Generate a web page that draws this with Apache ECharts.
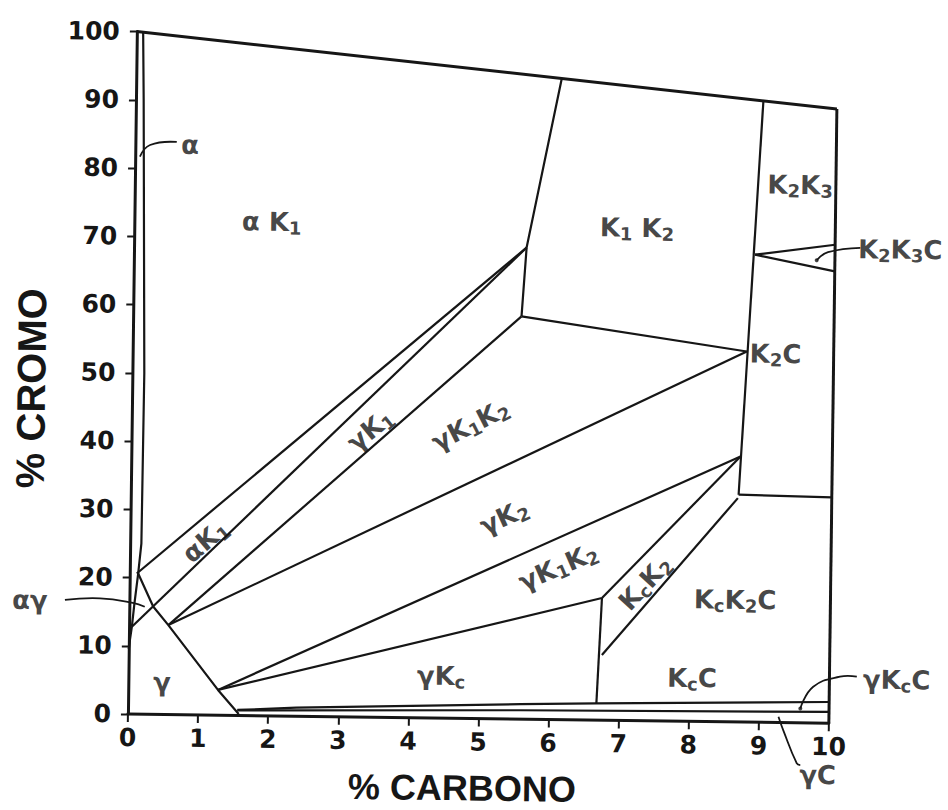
<!DOCTYPE html>
<html><head><meta charset="utf-8">
<script src="https://cdn.jsdelivr.net/npm/echarts@6/dist/echarts.min.js"></script>
<style>
html,body{margin:0;padding:0;background:#fff;overflow:hidden}
#chart{width:948px;height:810px;transform:rotate(0.75deg);transform-origin:474px 405px;}
</style>
</head><body><div id="chart"></div>
<script>
// ---- axis ticks ----
const xTickLabels = ['0','1','2','3','4','5','6','7','8','9','10'];
const yTickLabels = ['0','10','20','30','40','50','60','70','80','90','100'];

// ---- phase boundaries (% C, % Cr) ----
const topEdge     = [[0,100],[10,90]];
const rightEdge   = [[10,90],[10,0]];
const alphaLine   = [[0.09,99.9],[0.11,90],[0.17,50],[0.16,25],[0.12,20.6],[0.07,16],[0.04,12.8],[0.01,10.5],[0,9.5]];
const gammaLine   = [[0.12,20.6],[0.34,15.8],[0.56,13.1],[1.28,3.7],[1.58,0.2]];
const aK1Upper    = [[0.1,20.6],[5.6,69.1]];
const aK1Lower    = [[0.04,12.8],[5.6,69.1]];
const gK1Lower    = [[0.56,13.1],[5.54,59.0]];
const k1k2Left    = [[5.54,59.0],[5.6,69.1],[6.07,93.93]];
const k1k2Lower   = [[5.54,59.0],[8.76,54.3]];
const gK2Upper    = [[0.56,13.1],[8.76,54.3]];
const k2Left      = [[8.95,91.05],[8.67,33.3]];
const k2cBottom   = [[8.67,33.3],[10,33.1]];
const k2k3cUpper  = [[8.86,68.5],[10,70.1]];
const k2k3cLower  = [[8.86,68.5],[10,66.2]];
const gK2Lower    = [[1.28,3.7],[8.69,38.9]];
const gKcUpper    = [[1.28,3.7],[6.74,17.9]];
const kcVertical  = [[6.68,2.46],[6.74,17.9]];
const kcK2Upper   = [[6.74,17.9],[8.69,38.9]];
const kcK2Lower   = [[6.75,9.55],[8.66,32.8]];
const lineP       = [[1.56,0.8],[2.4,1.25],[5.6,2.2],[6.68,2.45],[10,3.1]];
const lineQ       = [[1.56,0.75],[5.6,1.3],[10,1.65]];

// ---- leader lines for labels ----
const ptrAlpha  = [[0.067,81.7],[0.21,83.4],[0.59,83.9]];
const ptrAG     = [[-0.92,16.6],[-0.42,16.9],[0.05,16.3],[0.22,15.75]];
const ptrK2K3C  = [[9.74,67.8],[9.9,69.0],[10.36,69.7]];
const ptrGKcC   = [[9.59,2.1],[9.77,5.3],[10.15,6.83],[10.39,6.86]];
const ptrGC     = [[9.28,0.85],[9.35,-1.1],[9.55,-5.95],[9.6,-6.2]];
const ptrDots   = [[9.74,67.8],[9.59,2.1]];

// ---- phase labels ('_' marks a subscript) ----
const labelText = ['α K_1','K_1 K_2','K_2K_3','K_2K_3C','K_2C','γK_1','γK_1K_2','γK_2','γK_1K_2','γK_c',
                   'K_cK_2','K_cK_2C','K_cC','γ','α','αγ','αK_1','γK_cC','γC'];
const labelAt   = [[1.96,72.4],[7.17,72.2],[9.49,78.8],[10.93,69.5],[9.17,54.0],[3.40,42.1],[4.83,43.0],[5.33,29.6],[6.11,22.4],[4.46,6.2],
                   [7.35,20.2],[8.64,17.9],[8.04,6.35],[0.48,4.75],[0.78,83.5],[-1.42,16.5],[1.07,25.5],[10.96,6.45],[9.85,-7.6]];
const labelRotate = [0,0,0,0,0,40,28,25,24,0,48,0,0,0,0,0,41,0,0];

const INK = '#161616';
const outerLines = [topEdge, rightEdge];
const innerLines = [alphaLine, gammaLine, aK1Upper, aK1Lower, gK1Lower, k1k2Left, k1k2Lower, gK2Upper,
  k2Left, k2cBottom, k2k3cUpper, k2k3cLower, gK2Lower, gKcUpper, kcVertical, kcK2Upper, kcK2Lower, lineP, lineQ];
const pointerLines = [ptrAlpha, ptrAG, ptrK2K3C, ptrGKcC, ptrGC];

function lineSeries(d, w){
  return {type:'line', data:d, showSymbol:false, symbol:'none', clip:false,
          silent:true, animation:false, lineStyle:{color:INK, width:w}, z:3};
}
function richText(t){
  let out='';
  for(let i=0;i<t.length;i++){
    const c=t[i];
    if(c==='_'){ out+='{s|'+t[++i]+'}'; } else { out+='{m|'+c+'}'; }
  }
  return out;
}
const FONT = 'DejaVu Sans';
const series = [];
outerLines.forEach(d=>series.push(lineSeries(d,3)));
innerLines.forEach(d=>series.push(lineSeries(d,2.2)));
// curved leader lines, drawn through the axes' scales
series.push({
  type:'custom', coordinateSystem:'cartesian2d', clip:false, silent:true, animation:false,
  data: pointerLines.map(p=>p[0]),
  encode:{x:0, y:1},
  renderItem:(params, api)=>{
    const pts = pointerLines[params.dataIndex].map(pt=>api.coord(pt));
    return {type:'polyline', shape:{points:pts, smooth:0.45},
            style:{stroke:INK, lineWidth:1.8, fill:null}};
  },
  z:4
});
series.push({type:'scatter', data:ptrDots, symbolSize:4, itemStyle:{color:INK}, clip:false, silent:true, animation:false});
series.push({
  type:'scatter', clip:false, silent:true, animation:false, symbolSize:1,
  itemStyle:{color:'rgba(0,0,0,0)'},
  data: labelText.map((t,i)=>({name:t, value:labelAt[i], label:{rotate:labelRotate[i]}})),
  label:{show:true, position:'inside', formatter:p=>richText(p.name),
    rich:{
      m:{fontFamily:FONT, fontWeight:'bold', fontSize:26, lineHeight:30, color:INK},
      s:{fontFamily:FONT, fontWeight:'bold', fontSize:18, lineHeight:18, verticalAlign:'bottom', color:INK}
    }},
  z:5
});

const axisLabelStyle = {fontFamily:FONT, fontWeight:'bold', fontSize:25, color:INK};
const chart = echarts.init(document.getElementById('chart'), null, {renderer:'svg'});
chart.setOption({
  backgroundColor:'#fff',
  animation:false,
  grid:{left:132, right:115, top:36, bottom:91.5, outerBoundsMode:'none', containLabel:false},
  xAxis:{type:'value', min:0, max:10, interval:1,
    axisLine:{show:true, onZero:false, lineStyle:{color:INK, width:3}},
    axisTick:{show:true, length:8, lineStyle:{color:INK, width:2}},
    axisLabel:{...axisLabelStyle, margin:11, formatter:v=>xTickLabels[Math.round(v)]},
    splitLine:{show:false}},
  yAxis:{type:'value', min:0, max:100, interval:10,
    axisLine:{show:true, onZero:false, lineStyle:{color:INK, width:3}},
    axisTick:{show:true, length:7, lineStyle:{color:INK, width:2}},
    axisLabel:{...axisLabelStyle, margin:17, formatter:v=>yTickLabels[Math.round(v/10)]},
    splitLine:{show:false}},
  graphic:[
    {type:'text', x:31, y:394, rotation:Math.PI/2,
     style:{text:'% CROMO', font:'bold 40px "Liberation Sans"', fill:INK, align:'center', verticalAlign:'middle'}},
    {type:'text', x:467, y:788,
     style:{text:'% CARBONO', font:'bold 36px "Liberation Sans"', fill:INK, align:'center', verticalAlign:'middle'}}
  ],
  series:series
});
</script>
</body></html>
